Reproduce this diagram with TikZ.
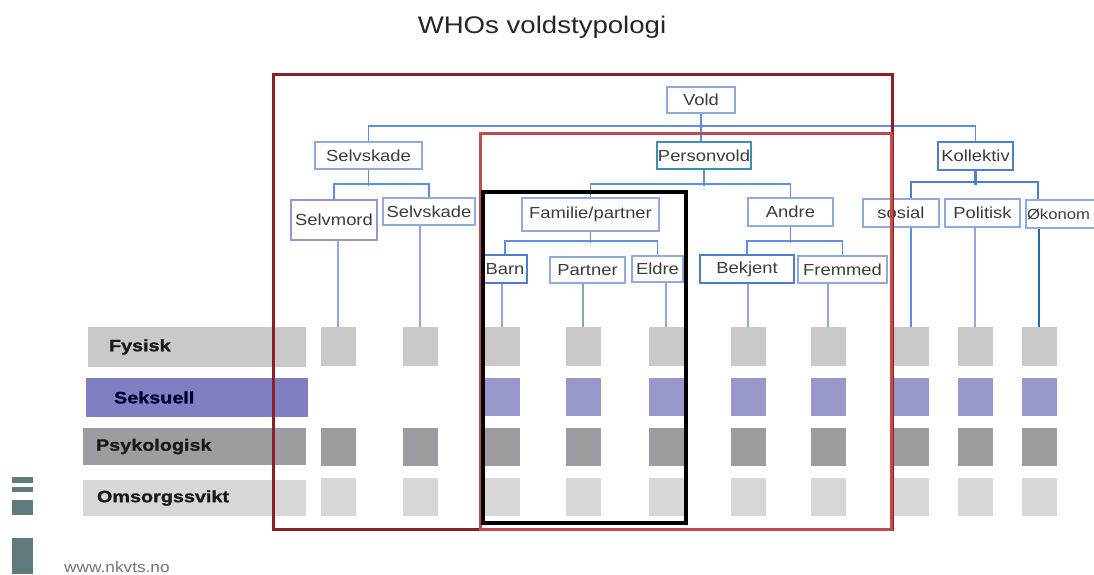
\documentclass[tikz,border=0pt]{standalone}
\usepackage{fontspec}
\setmainfont{Liberation Sans}
\newfontfamily\treefont[FakeStretch=1.15]{Liberation Sans}
\newfontfamily\barfont[FakeStretch=1.2, BoldFeatures={FakeBold=1.2}]{Liberation Sans}
\usepackage{tikz}
\usetikzlibrary{positioning}
\definecolor{boxblue}{HTML}{8EAADF}
\definecolor{deepblue}{HTML}{4A80C8}
\definecolor{tealblue}{HTML}{3F8FB4}
\definecolor{lilac}{HTML}{9C94D4}
\definecolor{lineblue}{HTML}{5E8EDC}
\definecolor{dropblue}{HTML}{93A3E8}
\definecolor{dropteal}{HTML}{7FA8B0}
\definecolor{dropdeep}{HTML}{1F6EA8}
\definecolor{textgray}{HTML}{3C3C3C}
\definecolor{darkred}{HTML}{8E1F22}
\definecolor{softred}{HTML}{C04A4C}
\definecolor{fyscol}{HTML}{C9C9C9}
\definecolor{sekbar}{HTML}{7F7FC2}
\definecolor{sekcol}{HTML}{9898CB}
\definecolor{psycol}{HTML}{9D9DA1}
\definecolor{omscol}{HTML}{D7D7D7}
\definecolor{iconcol}{HTML}{5F7B7B}
\tikzset{
  vbox/.style={draw=boxblue, line width=2pt, fill=white, text=textgray, inner sep=1pt,
    font=\treefont\fontsize{16}{18}\selectfont},
  tline/.style={draw=lineblue, line width=1.8pt},
  drop/.style={line width=1.3pt},
  cell/.style={inner sep=0pt, minimum width=35pt, minimum height=38.5pt},
  bar/.style={inner sep=0pt},
  barlabel/.style={inner sep=0pt, anchor=west, text=black!90,
    font=\barfont\bfseries\fontsize{16.5}{18}\selectfont},
  frame/.style={line width=3pt}
}

\begin{document}
\begin{tikzpicture}[x=1pt, y=-1pt]
\useasboundingbox (0,0) rectangle (1094,574);
\clip (0,0) rectangle (1094,574);

\node (title) [anchor=base, font=\treefont\fontsize{24}{28}\selectfont, text=black!85] at (542,33)
{WHOs voldstypologi};

% tree
\node (vold) [vbox, minimum width=68pt, minimum height=26pt] at (701,100) {Vold};
\node (selvskade) [vbox, minimum width=107pt, minimum height=27pt] at (368.5,155.5) {Selvskade};
\node (personvold) [vbox, draw=tealblue, minimum width=94pt, minimum height=27pt] at (704,155.5) {Personvold};
\node (kollektiv) [vbox, draw=deepblue, minimum width=75pt, minimum height=28pt] at (975.5,155.5) {Kollektiv};

\node (selvmord) [vbox, draw=lilac, minimum width=86pt, minimum height=40pt] at (334,220) {Selvmord};
\node (selvskade2) [vbox, minimum width=92pt, minimum height=27pt] at (429,211.5) {Selvskade};
\node (familie) [vbox, minimum width=137pt, minimum height=33pt] at (590.5,214.5) {Familie/partner};
\node (andre) [vbox, minimum width=85pt, minimum height=28pt] at (790.5,212) {Andre};
\node (sosial) [vbox, minimum width=76pt, minimum height=28pt] at (901,213) {sosial};
\node (politisk) [vbox, minimum width=75pt, minimum height=28pt] at (982.5,213) {Politisk};
\node (okonomisk) [vbox, anchor=west, align=left, text width=76pt, minimum height=28pt,
  font=\treefont\fontsize{14.5}{17}\selectfont] at (1025,214) {Økonom};

\node (barn) [vbox, draw=deepblue, minimum width=44pt, minimum height=28pt] at (505,269) {Barn};
\node (partner) [vbox, minimum width=75pt, minimum height=26pt] at (587.5,270) {Partner};
\node (eldre) [vbox, minimum width=51pt, minimum height=26pt] at (657.5,269) {Eldre};
\node (bekjent) [vbox, draw=deepblue, minimum width=94pt, minimum height=28pt] at (747,269) {Bekjent};
\node (fremmed) [vbox, minimum width=89pt, minimum height=27pt] at (842.5,269.5) {Fremmed};

\draw[tline] (vold.south) -- (vold.south |- personvold.north);
\draw[tline] (selvskade.north) -- ++(0,-15) -| (kollektiv.north);
\draw[tline] (selvskade.south) -- ++(0,16);
\draw[tline] (selvmord.north) -- ++(0,-15) -| (selvskade2.north);
\draw[tline] (personvold.south) -- ++(0,16);
\draw[tline] (familie.north) -- ++(0,-13) -| (andre.north);
\draw[tline] (familie.south) -- ++(0,11);
\draw[tline] (barn.north) -- ++(0,-13) -| (eldre.north);
\draw[tline] (andre.south) -- ++(0,16);
\draw[tline] (bekjent.north) -- ++(0,-13) -| (fremmed.north);
\draw[tline, draw=deepblue, line width=2.2pt] (kollektiv.south) -- ++(0,14);
\draw[tline, draw=deepblue, line width=2.2pt] ([xshift=10pt]sosial.north) -- ++(0,-16)
  -| ([xshift=13pt]okonomisk.north west);

% rows
\node (fysbar) [bar, fill=fyscol, minimum width=218pt, minimum height=40pt] at (197,347) {};
\node (sekbar) [bar, fill=sekbar, minimum width=222pt, minimum height=39pt] at (197,397.5) {};
\node (psybar) [bar, fill=psycol, minimum width=223pt, minimum height=37pt] at (194.5,446.5) {};
\node (omsbar) [bar, fill=omscol, minimum width=223pt, minimum height=36pt] at (194.5,498) {};
\node (fystxt) [barlabel, right=21pt of fysbar.west] {Fysisk};
\node (sektxt) [barlabel, right=28pt of sekbar.west, text=black!80!blue] {Seksuell};
\node (psytxt) [barlabel, right=13pt of psybar.west] {Psykologisk};
\node (omstxt) [barlabel, right=14pt of omsbar.west] {Omsorgssvikt};

\foreach \xx [count=\i] in {338,420,502,583,666,748,828,911,975,1039}{
  \node (fys\i) [cell, fill=fyscol] at (\xx,346.5) {};
  \ifnum\i>2 \node (sek\i) [cell, fill=sekcol] at (\xx,397) {}; \fi
  \node (psy\i) [cell, fill=psycol] at (\xx,447) {};
  \node (oms\i) [cell, fill=omscol] at (\xx,497) {};
}

\foreach \leaf/\tone [count=\i] in {selvmord/dropblue, selvskade2/dropblue, barn/dropblue,
    partner/dropteal, eldre/dropblue, bekjent/dropblue, fremmed/dropblue,
    sosial/lineblue, politisk/dropblue, okonomisk/dropdeep}
  \draw[drop, draw=\tone] (fys\i.north) -- (fys\i.north |- \leaf.south);

% frames
\draw[frame, darkred] (273,74) rectangle (892,529);
\draw[frame, softred] (480,133) rectangle (891,529);
\draw[frame, black, line width=4pt] (483,192) rectangle (686,523);

% logo
\fill[iconcol] (12,477) rectangle (33,483);
\fill[iconcol] (12,487) rectangle (33,492);
\fill[iconcol] (12,500) rectangle (33,515);
\fill[iconcol] (12,538) rectangle (33,574);
\node (web) [anchor=base west, inner sep=0pt, text=black!55,
  font=\treefont\fontsize{15}{18}\selectfont] at (64,572) {www.nkvts.no};

\end{tikzpicture}
\end{document}
